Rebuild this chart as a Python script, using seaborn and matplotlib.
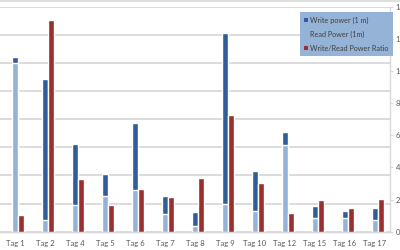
import numpy as np
import pandas as pd
import matplotlib
matplotlib.use("Agg")
import matplotlib.pyplot as plt
from matplotlib.patches import Patch
from matplotlib.lines import Line2D
import seaborn as sns

tags = ["Tag 1", "Tag 2", "Tag 4", "Tag 5", "Tag 6", "Tag 7", "Tag 8",
        "Tag 9", "Tag 10", "Tag 12", "Tag 15", "Tag 16", "Tag 17"]
write_power = [6.22, 5.43, 3.13, 2.05, 3.88, 1.28, 0.69, 7.07, 2.17, 3.55, 0.93, 0.75, 0.86]
read_power = [6.01, 0.43, 0.96, 1.28, 1.49, 0.63, 0.21, 1.00, 0.72, 3.07, 0.49, 0.49, 0.42]
ratio = [1.06, 13.2, 3.28, 1.64, 2.66, 2.16, 3.36, 7.28, 3.03, 1.16, 1.97, 1.47, 2.05]
right_ticks = [0, 2, 4, 6, 8, 10, 12, 14]

dark_blue = "#2F5D9B"
light_blue = "#95B3D7"
red = "#9B2F2D"
grid_c = "#D9D9D9"
text_c = "#595959"

sns.set_style("white")
plt.rcParams["font.family"] = ["Lato", "DejaVu Sans"]

df = pd.DataFrame({"pos": np.arange(len(tags), dtype=float),
                   "write": write_power, "read": read_power, "ratio": ratio})
df["pos_r"] = df["pos"] + 0.2

fig = plt.figure(figsize=(4, 2.5), dpi=100)
ax = fig.add_axes([0.0, 0.0732, 0.975, 0.9])
ax2 = ax.twinx()

sns.barplot(data=df, x="pos", y="write", native_scale=True, orient="x", width=0.2,
            color=dark_blue, saturation=1, errorbar=None, ax=ax, zorder=2)
sns.barplot(data=df, x="pos", y="read", native_scale=True, orient="x", width=0.2,
            color=light_blue, saturation=1, errorbar=None, ax=ax, zorder=3)
sns.barplot(data=df, x="pos_r", y="ratio", native_scale=True, orient="x", width=0.2,
            color=red, saturation=1, errorbar=None, ax=ax2, zorder=3)

ax.set_xlim(-0.5, len(tags) - 0.5)
ax.set_ylim(0, 8)
ax.set_yticks(range(0, 9))
ax.set_yticklabels([])
ax.tick_params(axis="y", length=0)
ax.yaxis.grid(True, color=grid_c, linewidth=1.3)
ax.set_axisbelow(True)
ax.set_xlabel("")
ax.set_ylabel("")
ax.set_xticks(np.arange(len(tags)))
ax.set_xticklabels(tags, fontsize=5.5, color=text_c)
ax.set_xticks(np.arange(len(tags)) + 0.5, minor=True)
ax.tick_params(axis="x", which="major", length=0, pad=6)
ax.tick_params(axis="x", which="minor", length=3, color=grid_c, width=0.8)

ax2.set_ylim(0, 14)
ax2.set_yticks(right_ticks)
ax2.set_yticklabels([str(t) for t in right_ticks], fontsize=5.5, color=text_c)
ax2.tick_params(axis="y", length=2.5, color=grid_c, pad=1.5)
ax2.set_xlabel("")
ax2.set_ylabel("")
ax2.set_xlim(-0.5, len(tags) - 0.5)

for a in (ax, ax2):
    for s in ("top", "left"):
        a.spines[s].set_visible(False)
    a.spines["right"].set_visible(False)
    a.spines["bottom"].set_color(grid_c)
    a.spines["bottom"].set_linewidth(1.0)
ax2.spines["right"].set_visible(True)
ax2.spines["right"].set_color(grid_c)
ax2.spines["right"].set_linewidth(1.0)

handles = [Patch(facecolor=dark_blue, edgecolor="none"),
           Patch(facecolor=light_blue, edgecolor="none"),
           Patch(facecolor=red, edgecolor="none")]
labels = ["Write power (1 m)", "Read Power (1m)", "Write/Read Power Ratio"]
leg = ax2.legend(handles, labels, loc="upper left", bbox_to_anchor=(300 / 400, 1 - 12.3 / 250),
                 bbox_transform=fig.transFigure, fontsize=5.2, frameon=True,
                 facecolor=light_blue, edgecolor="none", framealpha=1, fancybox=False,
                 handlelength=0.45, handleheight=0.45, handletextpad=0.37,
                 borderpad=0.6, labelspacing=0.95, borderaxespad=0)
for t in leg.get_texts():
    t.set_color("#404040")

fig.add_artist(Line2D([0, 1], [0.996, 0.996], color=grid_c, linewidth=1.2,
                      transform=fig.transFigure))

fig.savefig("out.png", dpi=100)
